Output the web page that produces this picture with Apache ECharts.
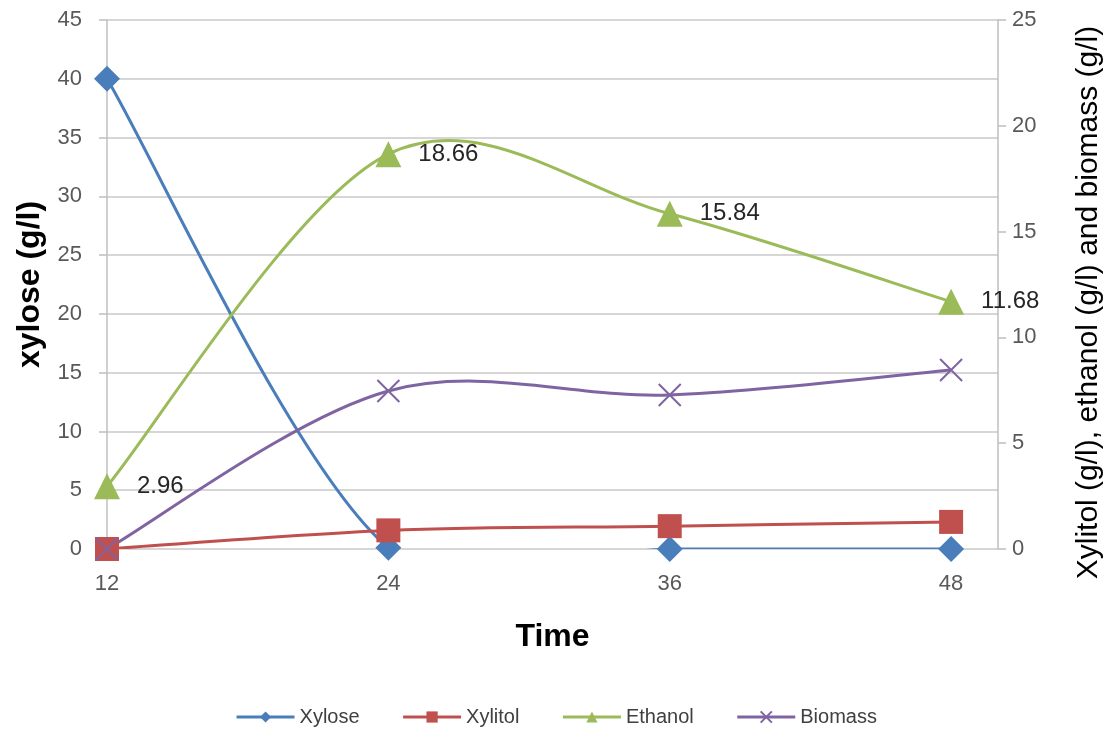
<!DOCTYPE html>
<html>
<head>
<meta charset="utf-8">
<script src="https://cdn.jsdelivr.net/npm/echarts@6/dist/echarts.min.js"></script>
<style>
  html, body { margin: 0; padding: 0; background: #fff; overflow: hidden; }
  #chart { width: 1112px; height: 731px; }
</style>
</head>
<body>
<div id="chart"></div>
<script>
// Fermentation time (h)
const times = [12, 24, 36, 48];
// Left axis: xylose (g/l)
const xylose = [40, 0.1, 0, 0];
// Right axis: xylitol, ethanol, biomass (g/l)
const xylitol = [0, 0.88, 1.08, 1.28];
const ethanol = [2.96, 18.66, 15.84, 11.68];
const biomass = [0, 7.47, 7.28, 8.46];

const leftTicks = [0, 45, 5];
const rightTicks = [0, 25, 5];

const FONT = 'Liberation Sans';
const pairs = vals => times.map((t, i) => [t, vals[i]]);

const chart = echarts.init(document.getElementById('chart'));

// Marker-only line series (the curve itself is drawn by the custom series below)
function markerSeries(name, vals, color, symbol, size, yIdx, extra) {
  return Object.assign({
    name: name,
    type: 'line',
    yAxisIndex: yIdx,
    data: pairs(vals),
    symbol: symbol,
    symbolSize: size,
    lineStyle: { color: color, width: 3, opacity: 0 },
    itemStyle: { color: color },
    z: 4
  }, extra || {});
}

// Smoothed curve: cubic Bezier segments with Catmull-Rom style control points
// (neighbour difference / 6), positions taken from the axes via api.coord.
function curveSeries(name, vals, color, yIdx) {
  const data = pairs(vals);
  return {
    name: name,
    type: 'custom',
    yAxisIndex: yIdx,
    clip: true,
    silent: true,
    z: 2,
    data: data,
    encode: { x: 0, y: 1 },
    renderItem: function (params, api) {
      const i = params.dataIndex;
      const n = data.length;
      if (i >= n - 1) return null;
      const p = k => api.coord(data[Math.max(0, Math.min(n - 1, k))]);
      const p0 = p(i - 1), p1 = p(i), p2 = p(i + 1), p3 = p(i + 2);
      return {
        type: 'bezierCurve',
        shape: {
          x1: p1[0], y1: p1[1],
          x2: p2[0], y2: p2[1],
          cpx1: p1[0] + (p2[0] - p0[0]) / 6,
          cpy1: p1[1] + (p2[1] - p0[1]) / 6,
          cpx2: p2[0] - (p3[0] - p1[0]) / 6,
          cpy2: p2[1] - (p3[1] - p1[1]) / 6
        },
        style: { stroke: color, lineWidth: 3, fill: null }
      };
    }
  };
}

const COLORS = { Xylose: '#4a7ebb', Xylitol: '#c0504d', Ethanol: '#9bbb59', Biomass: '#8064a2' };
const legendItem = name => ({ name: name, lineStyle: { opacity: 1, width: 3, color: COLORS[name] } });

chart.setOption({
  animation: false,
  backgroundColor: '#fff',
  textStyle: { fontFamily: FONT },
  grid: { left: 107, right: 94, top: 20, bottom: 182, containLabel: false },
  legend: {
    top: 702,
    left: 'center',
    itemWidth: 58,
    itemHeight: 14,
    itemGap: 42,
    textStyle: { fontFamily: FONT, fontSize: 20, color: '#404040' },
    data: ['Xylose', 'Xylitol', 'Ethanol', 'Biomass'].map(legendItem)
  },
  xAxis: {
    type: 'value',
    min: 12,
    max: 50,
    interval: 12,
    name: 'Time',
    nameLocation: 'middle',
    nameGap: 72,
    nameTextStyle: { fontFamily: FONT, fontSize: 32, fontWeight: 'bold', color: '#000' },
    axisLine: { show: false },
    axisTick: { show: false },
    splitLine: { show: false },
    axisLabel: {
      margin: 24,
      fontSize: 22,
      color: '#595959',
      showMaxLabel: false,
      formatter: v => (times.indexOf(v) >= 0 ? String(v) : '')
    }
  },
  yAxis: [
    {
      type: 'value',
      position: 'left',
      min: leftTicks[0],
      max: leftTicks[1],
      interval: leftTicks[2],
      name: 'xylose (g/l)',
      nameLocation: 'middle',
      nameGap: 53,
      nameTextStyle: { fontFamily: FONT, fontSize: 32, fontWeight: 'bold', color: '#000' },
      axisLine: { show: true, lineStyle: { color: '#bfbfbf', width: 1.5 } },
      axisTick: { show: true, length: 8, lineStyle: { color: '#bfbfbf', width: 1.5 } },
      axisLabel: { margin: 25, fontSize: 22, color: '#595959' },
      splitLine: { show: true, lineStyle: { color: '#c8c8c8', width: 1.5 } }
    },
    {
      type: 'value',
      position: 'right',
      min: rightTicks[0],
      max: rightTicks[1],
      interval: rightTicks[2],
      name: 'Xylitol (g/l), ethanol (g/l) and biomass (g/l)',
      nameLocation: 'middle',
      nameGap: 76,
      nameRotate: 90,
      nameTextStyle: { fontFamily: FONT, fontSize: 30, color: '#000', padding: [0, 36, 0, 0] },
      axisLine: { show: true, lineStyle: { color: '#bfbfbf', width: 1.5 } },
      axisTick: { show: true, length: 8, lineStyle: { color: '#bfbfbf', width: 1.5 } },
      axisLabel: { margin: 14, fontSize: 22, color: '#595959' },
      splitLine: { show: false }
    }
  ],
  series: [
    markerSeries('Xylose', xylose, COLORS.Xylose, 'diamond', 26, 0),
    markerSeries('Xylitol', xylitol, COLORS.Xylitol, 'rect', 24, 1),
    markerSeries('Ethanol', ethanol, COLORS.Ethanol, 'triangle', 26, 1, {
      label: {
        show: true,
        position: 'right',
        distance: 17,
        fontFamily: FONT,
        fontSize: 24,
        color: '#262626',
        formatter: p => p.value[1].toFixed(2)
      }
    }),
    markerSeries('Biomass', biomass, COLORS.Biomass, 'path://M0,0 L10,10 M10,0 L0,10', 22, 1, {
      itemStyle: { color: COLORS.Biomass, borderColor: COLORS.Biomass, borderWidth: 2 }
    }),
    curveSeries('Xylose', xylose, COLORS.Xylose, 0),
    curveSeries('Xylitol', xylitol, COLORS.Xylitol, 1),
    curveSeries('Ethanol', ethanol, COLORS.Ethanol, 1),
    curveSeries('Biomass', biomass, COLORS.Biomass, 1)
  ]
});
</script>
</body>
</html>
